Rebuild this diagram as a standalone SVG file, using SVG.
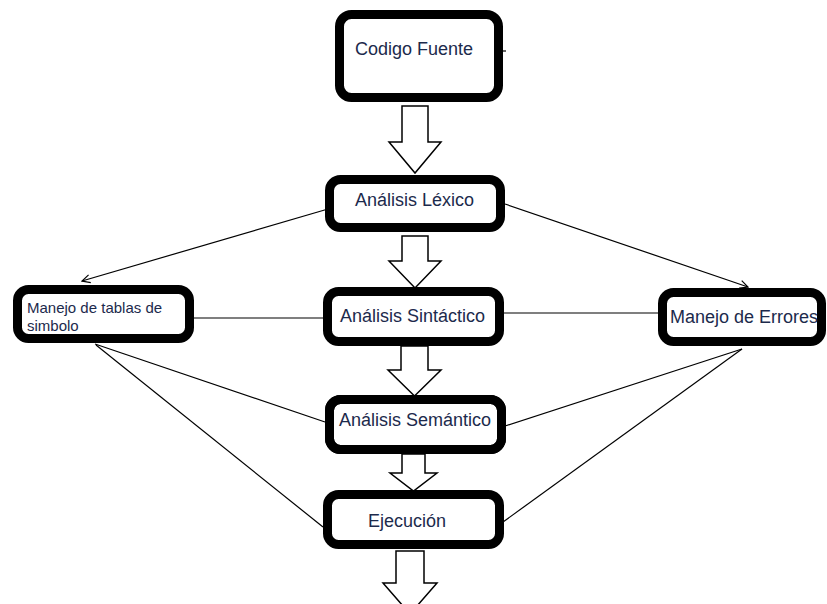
<svg xmlns="http://www.w3.org/2000/svg" width="827" height="604" viewBox="0 0 827 604">
  <style>
    .box { fill: #ffffff; stroke: #000000; stroke-width: 9; }
    .edge { fill: none; stroke: #000000; stroke-width: 9; }
    .label { font-family: "Liberation Sans", Arial, sans-serif; font-size: 18px; fill: #1c2a4c; }
    .small { font-size: 15px; }
    .flow { fill: #ffffff; stroke: #000000; stroke-width: 1.5; stroke-linejoin: miter; }
    .link { fill: none; stroke: #000000; stroke-width: 1.2; }
  </style>
  <defs>
    <marker id="open" viewBox="0 0 10 10" refX="9" refY="5" markerWidth="10" markerHeight="10" markerUnits="userSpaceOnUse" orient="auto">
      <path d="M1 1 L9 5 L1 9" fill="none" stroke="#000000" stroke-width="1.2"/>
    </marker>
  </defs>
  <rect width="827" height="604" fill="#ffffff"/>

  <!-- thin links between phases and support modules -->
  <g id="connectors">
    <line class="link" x1="328" y1="209" x2="82" y2="281" marker-end="url(#open)"/>
    <line class="link" x1="505" y1="204" x2="748" y2="287" marker-end="url(#open)"/>
    <line class="link" x1="193" y1="318" x2="323" y2="318"/>
    <line class="link" x1="503" y1="313" x2="658" y2="313"/>
    <line class="link" x1="95" y1="344" x2="325" y2="422"/>
    <line class="link" x1="96" y1="345" x2="323" y2="527"/>
    <line class="link" x1="742" y1="349" x2="505" y2="426"/>
    <line class="link" x1="742" y1="349" x2="503" y2="522"/>
    <line class="link" x1="503" y1="51" x2="506" y2="51"/>
    <!-- block arrows of the main pipeline -->
    <path class="flow" d="M402 106 L428 106 L428 142 L441 142 L415 173 L389 142 L402 142 Z"/>
    <path class="flow" d="M402 236 L428 236 L428 261 L441 261 L415 288 L389 261 L402 261 Z"/>
    <path class="flow" d="M401 346 L428 346 L428 370 L441 370 L414.5 396 L388 370 L401 370 Z"/>
    <path class="flow" d="M402 454 L425 454 L425 473 L437 473 L413.5 491 L390 473 L402 473 Z"/>
    <path class="flow" d="M396 551 L424 551 L424 583 L437 583 L410 614 L383 583 L396 583 Z"/>
  </g>

  <g id="codigo-fuente">
    <rect class="box" x="339.5" y="14.5" width="159" height="83" rx="12"/>
    <text class="label" x="414" y="55" text-anchor="middle">Codigo Fuente</text>
  </g>

  <g id="analisis-lexico">
    <rect class="box" x="329.5" y="179.5" width="171" height="48" rx="11"/>
    <text class="label" x="414.5" y="206" text-anchor="middle">Análisis Léxico</text>
  </g>

  <g id="manejo-tablas">
    <rect class="box" x="17.5" y="289.5" width="172" height="49" rx="11"/>
    <text class="label small" x="27" y="313">Manejo de tablas de</text>
    <text class="label small" x="27" y="331">simbolo</text>
  </g>

  <g id="analisis-sintactico">
    <rect class="box" x="327.5" y="291.5" width="172" height="50" rx="11"/>
    <text class="label" x="412.5" y="322" text-anchor="middle">Análisis Sintáctico</text>
  </g>

  <g id="manejo-errores">
    <rect class="box" x="662.5" y="292.5" width="159" height="49" rx="11"/>
    <text class="label" x="670" y="323">Manejo de Errores</text>
  </g>

  <g id="analisis-semantico">
    <rect class="box" x="329.5" y="399.5" width="172" height="50" rx="11"/>
    <text class="label" x="339" y="426">Análisis Semántico</text>
    <rect class="edge" x="329.5" y="399.5" width="172" height="50" rx="11"/>
  </g>

  <g id="ejecucion">
    <rect class="box" x="327.5" y="494.5" width="172" height="50" rx="11"/>
    <text class="label" x="407" y="527" text-anchor="middle">Ejecución</text>
  </g>
</svg>
